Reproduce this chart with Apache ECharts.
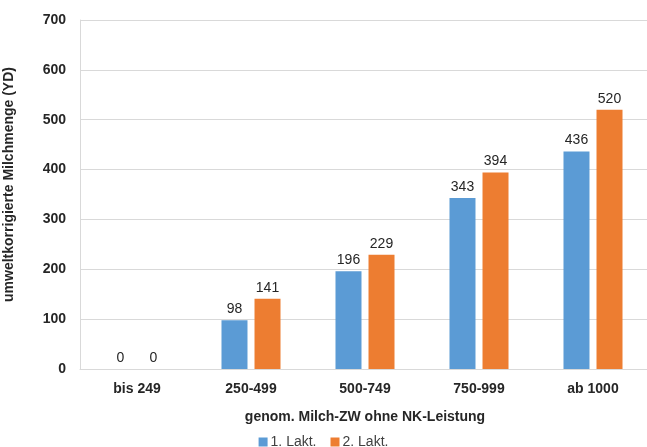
<!DOCTYPE html>
<html>
<head>
<meta charset="utf-8">
<script src="https://cdn.jsdelivr.net/npm/echarts@6/dist/echarts.min.js"></script>
<style>
  html, body { margin: 0; padding: 0; background: #fff; }
  #chart { width: 647px; height: 447px; }
</style>
</head>
<body>
<div id="chart"></div>
<script>
  // Kategorien und Werte
  var categories = ['bis 249', '250-499', '500-749', '750-999', 'ab 1000'];
  var lakt1 = [0, 98, 196, 343, 436];
  var lakt2 = [0, 141, 229, 394, 520];
  var seriesNames = ['1. Lakt.', '2. Lakt.'];

  var font = 'Liberation Sans, Arial, sans-serif';
  var chart = echarts.init(document.getElementById('chart'));

  var labelOpt = {
    show: true,
    position: 'top',
    distance: 4,
    color: '#262626',
    fontFamily: font,
    fontSize: 14
  };

  chart.setOption({
    animation: false,
    textStyle: { fontFamily: font },
    grid: { left: 80, top: 20, width: 570, height: 349, outerBoundsMode: 'none' },
    legend: {
      bottom: -7,
      itemWidth: 9,
      itemHeight: 9,
      itemGap: 14,
      icon: 'rect',
      textStyle: { fontFamily: font, fontSize: 14, color: '#404040', padding: [0, 0, 0, -2] },
      data: seriesNames
    },
    xAxis: {
      type: 'category',
      data: categories,
      name: 'genom. Milch-ZW ohne NK-Leistung',
      nameLocation: 'middle',
      nameGap: 41,
      nameTextStyle: { fontFamily: font, fontSize: 14, fontWeight: 'bold', color: '#262626' },
      axisLine: { lineStyle: { color: '#d9d9d9' } },
      axisTick: { show: false },
      axisLabel: { fontFamily: font, fontSize: 14, fontWeight: 'bold', color: '#262626', margin: 13 }
    },
    yAxis: {
      type: 'value',
      min: 0,
      max: 700,
      interval: 100,
      name: 'umweltkorrigierte Milchmenge (YD)',
      nameLocation: 'middle',
      nameGap: 64,
      nameTextStyle: { fontFamily: font, fontSize: 14, fontWeight: 'bold', color: '#262626', padding: [0, 0, 0, 20] },
      axisLine: { show: true, lineStyle: { color: '#d9d9d9' } },
      axisTick: { show: false },
      splitLine: { lineStyle: { color: '#d9d9d9' } },
      axisLabel: { fontFamily: font, fontSize: 14, fontWeight: 'bold', color: '#262626', margin: 14 }
    },
    series: [
      {
        name: seriesNames[0],
        type: 'bar',
        data: lakt1,
        barWidth: 26,
        barGap: '27%',
        itemStyle: { color: '#5b9bd5' },
        label: labelOpt
      },
      {
        name: seriesNames[1],
        type: 'bar',
        data: lakt2,
        barWidth: 26,
        barGap: '27%',
        itemStyle: { color: '#ed7d31' },
        label: labelOpt
      }
    ]
  });
</script>
</body>
</html>
